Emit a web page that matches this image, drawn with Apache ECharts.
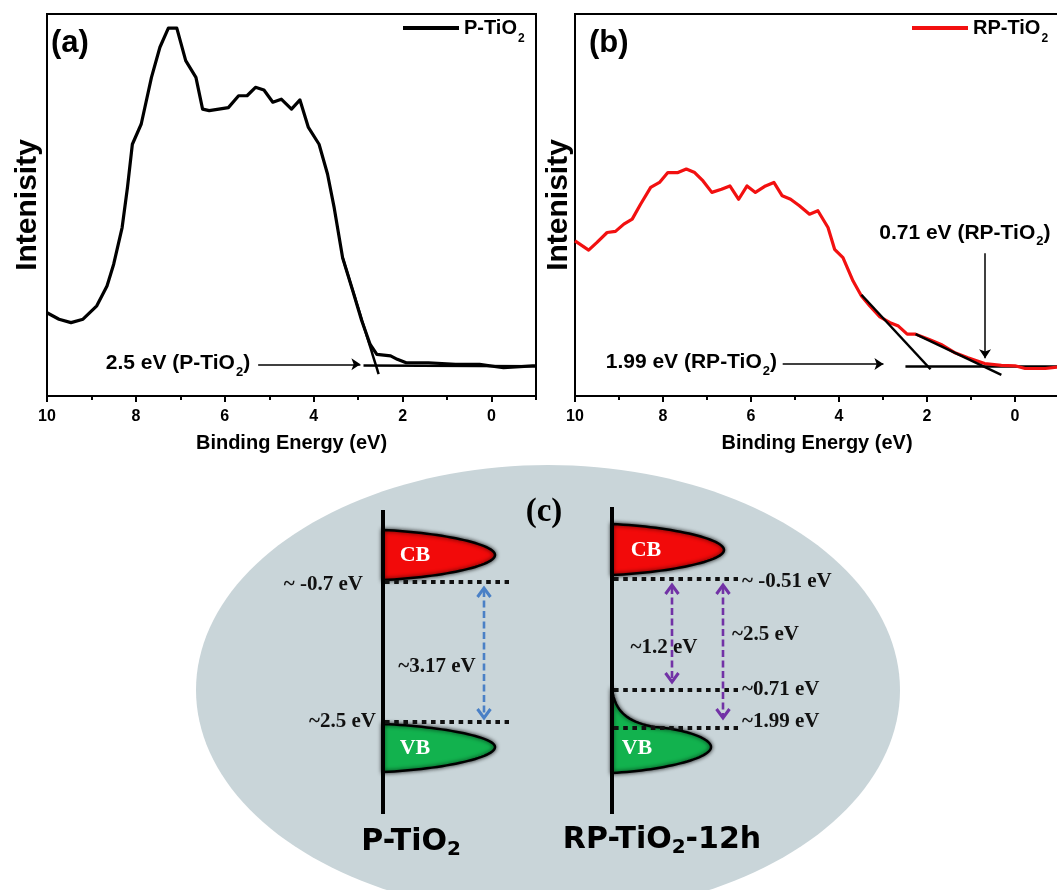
<!DOCTYPE html>
<html><head><meta charset="utf-8">
<script src="https://cdn.jsdelivr.net/npm/echarts@6/dist/echarts.min.js"></script>
<style>html,body{margin:0;padding:0;background:#fff}#c{width:1057px;height:890px}</style>
</head><body><div id="c"></div>
<script>
// ---------- values ----------
// panel (a): P-TiO2 valence-band spectrum (binding energy eV, relative intensity)
const aEnergy = [10, 9.73, 9.46, 9.19, 8.88, 8.65, 8.5, 8.31, 8.19, 8.08, 7.88, 7.65, 7.46, 7.27, 7.08, 6.88, 6.65, 6.5, 6.35, 5.92, 5.69, 5.5, 5.31, 5.12, 4.92, 4.73, 4.5, 4.31, 4.12, 3.88, 3.69, 3.54, 3.35, 3.12, 2.92, 2.73, 2.58, 2.27, 2.12, 1.92, 1.42, 0.81, 0.27, -0.27, -0.92, -1];
const aIntensity = [21.8, 20.1, 19.2, 20.1, 23.6, 28.8, 34.5, 44.1, 54.6, 65.9, 71.2, 83.4, 91.3, 96.3, 96.3, 87.8, 83.4, 75.1, 74.7, 75.5, 78.6, 78.6, 80.8, 80.1, 76.9, 77.7, 75.1, 77.5, 70.3, 65.9, 58.1, 49.3, 36.2, 27.5, 19.7, 13.5, 10.9, 10.5, 9.6, 8.7, 8.7, 8.3, 8.3, 7.4, 7.9, 7.9];
// panel (b): RP-TiO2
const bEnergy = [10, 9.69, 9.5, 9.27, 9.08, 8.89, 8.7, 8.51, 8.28, 8.08, 7.89, 7.66, 7.47, 7.28, 7.09, 6.89, 6.67, 6.48, 6.28, 6.09, 5.9, 5.67, 5.48, 5.29, 5.1, 4.9, 4.67, 4.48, 4.25, 4.1, 3.91, 3.68, 3.49, 3.3, 3.07, 2.84, 2.65, 2.45, 2.26, 1.95, 1.68, 1.38, 1.07, 0.69, 0.31, 0, -0.23, -0.69, -1];
const bIntensity = [40.6, 38.2, 40.2, 42.8, 43.1, 45.0, 46.3, 50.2, 54.6, 55.9, 58.5, 58.5, 59.4, 58.5, 56.3, 53.3, 54.1, 55.0, 51.5, 55.0, 53.3, 55.0, 55.9, 52.4, 51.5, 49.8, 47.6, 48.5, 44.1, 38.4, 36.2, 30.1, 26.2, 23.6, 20.7, 19.2, 18.3, 16.2, 16.2, 14.8, 13.5, 11.4, 10.0, 8.5, 8.0, 7.9, 7.2, 7.2, 7.6];
// extrapolation lines (energy, intensity)
const aTangent = [[3.35, 36.2], [2.54, 5.7]];
const aBaseline = [[2.88, 8.0], [-1, 7.8]];
const bTangent1 = [[3.49, 26.5], [1.92, 7.0]];
const bTangent2 = [[2.26, 16.2], [0.31, 5.5]];
const bBaseline = [[2.49, 7.7], [-1, 7.7]];
// annotations
const aNotes = ['2.5 eV (P-TiO{sub|2})'];
const aNoteAt = [[5.43, 8.6]];
const aArrow = [[5.25, 8.3], [2.95, 8.3]];
const bNotes = ['1.99 eV (RP-TiO{sub|2})', '0.71 eV (RP-TiO{sub|2})'];
const bNoteAt = [[5.41, 8.8], [1.14, 42.7]];
const bArrowH = [[5.28, 8.4], [2.99, 8.4]];
const bArrowV = [[0.68, 37.4], [0.68, 9.9]];
// axis ticks
const xMajorTicks = [10, 8, 6, 4, 2, 0];
const xMinorTicks = [9, 7, 5, 3, 1, -1];
const seriesNames = ['P-TiO2', 'RP-TiO2'];

// panel (c): band diagram (schematic layout units)
const materialNames = ['P-TiO{sub|2}', 'RP-TiO{sub|2}-12h'];
const materialAxisX = [383, 612];
const materialAxisTop = [510, 507];
const materialAxisBottom = [814, 814];
const materialLabelAt = [[411, 842], [662, 840]];
const bandMaterial = [0, 1, 0, 1];
const bandName = ['CB', 'CB', 'VB', 'VB'];
const bandTop = [530, 524, 724, 727];
const bandBottom = [580, 575, 772, 773];
const bandTipX = [495, 724, 495, 711];
const bandTipY = [555, 550, 747, 747];
const bandTailTop = [null, null, null, 688];
const bandLabelAt = [[415, 555], [646, 550], [415, 748], [637, 748]];
const levelLines = [[385, 509, 582], [385, 509, 722], [614, 738, 579], [614, 738, 690], [614, 738, 728]];
const gapArrows = [[484, 588, 718], [672, 585, 682], [723, 585, 718]];
const levelTexts = ['~ -0.7 eV', '~2.5 eV', '~3.17 eV', '~ -0.51 eV', '~1.2 eV', '~2.5 eV', '~0.71 eV', '~1.99 eV'];
const levelTextAt = [[363, 585], [376, 722], [437, 667], [742, 582], [664, 648], [732, 635], [742, 690], [742, 722]];
const levelTextAlign = ['right', 'right', 'center', 'left', 'center', 'left', 'left', 'left'];
const backdrop = [[548, 690, 352, 225]];

// ---------- styles ----------
const SANS = 'Liberation Sans';
const SERIF = 'Liberation Serif';
const bandColors = {CB: '#f20a0a', VB: '#12b24e'};
const arrowColors = ['#4a80c6', '#7232a6', '#7232a6'];
const subRich = (size, pad, fam) => ({sub: {fontSize: size, fontFamily: fam || SANS, fontWeight: 'bold', color: '#000', padding: [pad, 0, 0, 1], verticalAlign: 'middle'}});

const chart = echarts.init(document.getElementById('c'), null, {renderer: 'canvas'});

function xAxisMain(grid) {
  return {gridIndex: grid, type: 'value', inverse: true, min: -1, max: 10, interval: 1, position: 'bottom',
    axisLine: {show: true, onZero: false, lineStyle: {color: '#000', width: 2}},
    axisTick: {show: true, inside: false, length: 6, customValues: xMajorTicks, lineStyle: {color: '#000', width: 2}},
    axisLabel: {show: true, customValues: xMajorTicks, margin: 13, fontFamily: SANS, fontWeight: 'bold', fontSize: 16, color: '#000'},
    splitLine: {show: false},
    name: 'Binding Energy (eV)', nameLocation: 'middle', nameGap: 37,
    nameTextStyle: {fontFamily: SANS, fontWeight: 'bold', fontSize: 20, color: '#000'}};
}
function xAxisMinor(grid) {
  return {gridIndex: grid, type: 'value', inverse: true, min: -1, max: 10, interval: 1, position: 'bottom', offset: 0,
    axisLine: {show: false}, axisLabel: {show: false}, splitLine: {show: false},
    axisTick: {show: true, inside: false, length: 4, customValues: xMinorTicks, lineStyle: {color: '#000', width: 2}}};
}
function yAxisPanel(grid, gap) {
  return {gridIndex: grid, type: 'value', min: 0, max: 100,
    axisLine: {show: true, onZero: false, lineStyle: {color: '#000', width: 2}},
    axisTick: {show: false}, axisLabel: {show: false}, splitLine: {show: false},
    name: 'Intenisity', nameLocation: 'middle', nameGap: gap, nameRotate: 90,
    nameTextStyle: {fontFamily: SANS, fontWeight: 'bold', fontSize: 30, color: '#000'}};
}
function blackLine(name, pts, xi, yi, extra) {
  return Object.assign({type: 'line', name: name, xAxisIndex: xi, yAxisIndex: yi, data: pts, symbol: 'none',
    lineStyle: {color: '#000', width: 2.5}, itemStyle: {color: '#000'}, z: 4, silent: true}, extra || {});
}
function arrowMark(segs) {
  return {silent: true, symbol: ['none', 'arrow'], symbolSize: 9, label: {show: false},
    lineStyle: {color: '#000', width: 1.5, type: 'solid'}, itemStyle: {color: '#000'},
    data: segs.map(s => [{coord: s[0]}, {coord: s[1]}])};
}
function noteSeries(notes, at, aligns, xi, yi) {
  return {type: 'custom', xAxisIndex: xi, yAxisIndex: yi, data: at, z: 6, silent: true,
    renderItem: (params, api) => {
      const p = api.coord([api.value(0), api.value(1)]);
      return {type: 'text', x: p[0], y: p[1], style: {text: notes[params.dataIndex], fill: '#000',
        fontFamily: SANS, fontWeight: 'bold', fontSize: 21, align: aligns[params.dataIndex], verticalAlign: 'middle',
        rich: subRich(13, 18)}};
    }};
}
function cubic(p0, p1, p2, p3, n, out) {
  for (let i = 1; i <= n; i++) {
    const t = i / n, u = 1 - t;
    out.push([u*u*u*p0[0] + 3*u*u*t*p1[0] + 3*u*t*t*p2[0] + t*t*t*p3[0],
              u*u*u*p0[1] + 3*u*u*t*p1[1] + 3*u*t*t*p2[1] + t*t*t*p3[1]]);
  }
}

const option = {
  backgroundColor: '#fff',
  animation: false,
  title: [
    {text: '(a)', left: 51, top: 28, padding: 0, textStyle: {fontFamily: SANS, fontWeight: 'bold', fontSize: 31, color: '#000'}},
    {text: '(b)', left: 589, top: 28, padding: 0, textStyle: {fontFamily: SANS, fontWeight: 'bold', fontSize: 31, color: '#000'}},
    {text: '(c)', left: 544, textAlign: 'center', top: 496, padding: 0, textStyle: {fontFamily: SERIF, fontWeight: 'bold', fontSize: 33, color: '#000'}}
  ],
  legend: [
    {data: [seriesNames[0]], left: 403, top: 18, padding: 0, icon: 'rect', itemWidth: 56, itemHeight: 4,
      formatter: n => n.replace(/2$/, '{sub|2}'),
      textStyle: {fontFamily: SANS, fontWeight: 'bold', fontSize: 20, color: '#000', rich: subRich(12, 22)}},
    {data: [seriesNames[1]], left: 912, top: 18, padding: 0, icon: 'rect', itemWidth: 56, itemHeight: 4,
      formatter: n => n.replace(/2$/, '{sub|2}'),
      textStyle: {fontFamily: SANS, fontWeight: 'bold', fontSize: 20, color: '#000', rich: subRich(12, 22)}}
  ],
  grid: [
    {left: 47, top: 14, width: 489, height: 382, show: true, borderColor: '#000', borderWidth: 2, outerBoundsMode: 'none', containLabel: false},
    {left: 575, top: 14, width: 484, height: 382, show: true, borderColor: '#000', borderWidth: 2, outerBoundsMode: 'none', containLabel: false},
    {left: 0, top: 460, width: 1057, height: 430, show: false, outerBoundsMode: 'none', containLabel: false}
  ],
  xAxis: [xAxisMain(0), xAxisMinor(0), xAxisMain(1), xAxisMinor(1),
    {gridIndex: 2, type: 'value', min: 0, max: 1057, show: false}],
  yAxis: [yAxisPanel(0, 4), yAxisPanel(1, 1),
    {gridIndex: 2, type: 'value', min: 460, max: 890, inverse: true, show: false}],
  series: [
    // ---- panel (a)
    {type: 'line', name: seriesNames[0], xAxisIndex: 0, yAxisIndex: 0, symbol: 'none', z: 3,
      data: aEnergy.map((x, i) => [x, aIntensity[i]]),
      lineStyle: {color: '#000', width: 3.2, join: 'round'}, itemStyle: {color: '#000'}},
    blackLine('tanA', aTangent, 0, 0),
    blackLine('baseA', aBaseline, 0, 0, {markLine: arrowMark([aArrow])}),
    noteSeries(aNotes, aNoteAt, ['right'], 0, 0),
    // ---- panel (b)
    {type: 'line', name: seriesNames[1], xAxisIndex: 2, yAxisIndex: 1, symbol: 'none', z: 3,
      data: bEnergy.map((x, i) => [x, bIntensity[i]]),
      lineStyle: {color: '#f21010', width: 3.2, join: 'round'}, itemStyle: {color: '#f21010'}},
    blackLine('tanB1', bTangent1, 2, 1),
    blackLine('tanB2', bTangent2, 2, 1),
    blackLine('baseB', bBaseline, 2, 1, {z: 2, markLine: arrowMark([bArrowH, bArrowV])}),
    noteSeries(bNotes, bNoteAt, ['right', 'center'], 2, 1),
    // ---- panel (c): backdrop ellipse
    {type: 'custom', xAxisIndex: 4, yAxisIndex: 2, data: backdrop, z: 1, silent: true, clip: false,
      renderItem: (params, api) => {
        const cx = api.value(0), cy = api.value(1), rx = api.value(2), ry = api.value(3);
        const pts = [];
        for (let k = 0; k < 180; k++) {
          const t = k / 180 * Math.PI * 2;
          pts.push(api.coord([cx + rx * Math.cos(t), cy + ry * Math.sin(t)]));
        }
        return {type: 'polygon', shape: {points: pts}, style: {fill: '#c9d5d9', stroke: 'none'}};
      }},
    // bands
    {type: 'custom', xAxisIndex: 4, yAxisIndex: 2, z: 3, silent: true, clip: false,
      data: bandMaterial.map((m, i) => [materialAxisX[m], bandTop[i], bandBottom[i], bandTipX[i], bandTipY[i]]),
      renderItem: (params, api) => {
        const i = params.dataIndex;
        const xL = api.value(0), yT = api.value(1), yB = api.value(2), tip = [api.value(3), api.value(4)];
        const pts = [];
        const tail = bandTailTop[i];
        if (tail != null) {
          pts.push([xL, tail]);
          cubic([xL, tail], [xL + 2, tail + 20], [xL + 12, yT - 5], [xL + 43, yT], 20, pts);
        } else pts.push([xL, yT]);
        const s = pts[pts.length - 1];
        cubic(s, [s[0] + 0.5 * (tip[0] - s[0]), yT + 0.1 * (tip[1] - yT)], [tip[0], tip[1] - 0.45 * (tip[1] - yT)], tip, 30, pts);
        cubic(tip, [tip[0], tip[1] + 0.45 * (yB - tip[1])], [xL + 0.5 * (tip[0] - xL), yB - 0.1 * (yB - tip[1])], [xL, yB], 30, pts);
        const lp = api.coord(bandLabelAt[i]);
        return {type: 'group', children: [
          {type: 'polygon', shape: {points: pts.map(p => api.coord(p))},
            style: {fill: bandColors[bandName[i]], stroke: '#000', lineWidth: 2.5, shadowBlur: 4, shadowColor: 'rgba(0,0,0,0.75)'}},
          {type: 'text', x: lp[0], y: lp[1], style: {text: bandName[i], fill: '#fff', fontFamily: SERIF, fontWeight: 'bold', fontSize: 22, align: 'center', verticalAlign: 'middle'}}
        ]};
      }},
    // material axes
    {type: 'custom', xAxisIndex: 4, yAxisIndex: 2, z: 4, silent: true, clip: false,
      data: materialAxisX.map((x, i) => [x, materialAxisTop[i], materialAxisBottom[i]]),
      renderItem: (params, api) => {
        const a = api.coord([api.value(0), api.value(1)]), b = api.coord([api.value(0), api.value(2)]);
        return {type: 'line', shape: {x1: a[0], y1: a[1], x2: b[0], y2: b[1]}, style: {stroke: '#000', lineWidth: 4}};
      }},
    // dotted band edges
    {type: 'custom', xAxisIndex: 4, yAxisIndex: 2, z: 5, silent: true, clip: false, data: levelLines,
      renderItem: (params, api) => {
        const a = api.coord([api.value(0), api.value(2)]), b = api.coord([api.value(1), api.value(2)]);
        return {type: 'line', shape: {x1: a[0], y1: a[1], x2: b[0], y2: b[1]}, style: {stroke: '#111', lineWidth: 4, lineDash: [4.6, 4.6]}};
      }},
    // level texts
    {type: 'custom', xAxisIndex: 4, yAxisIndex: 2, z: 5, silent: true, clip: false, data: levelTextAt,
      renderItem: (params, api) => {
        const p = api.coord([api.value(0), api.value(1)]);
        return {type: 'text', x: p[0], y: p[1], style: {text: levelTexts[params.dataIndex], fill: '#111',
          fontFamily: SERIF, fontWeight: 'bold', fontSize: 21, align: levelTextAlign[params.dataIndex], verticalAlign: 'middle'}};
      }},
    // gap arrows
    {type: 'custom', xAxisIndex: 4, yAxisIndex: 2, z: 6, silent: true, clip: false, data: gapArrows,
      renderItem: (params, api) => {
        const c = arrowColors[params.dataIndex];
        const t = api.coord([api.value(0), api.value(1)]), b = api.coord([api.value(0), api.value(2)]);
        const hw = 6.5, hh = 9;
        return {type: 'group', children: [
          {type: 'line', shape: {x1: t[0], y1: t[1] + 2, x2: b[0], y2: b[1] - 2}, style: {stroke: c, lineWidth: 2.6, lineDash: [7, 3.5]}},
          {type: 'polyline', shape: {points: [[t[0] - hw, t[1] + hh], [t[0], t[1]], [t[0] + hw, t[1] + hh]]}, style: {stroke: c, lineWidth: 3, fill: 'none'}},
          {type: 'polyline', shape: {points: [[b[0] - hw, b[1] - hh], [b[0], b[1]], [b[0] + hw, b[1] - hh]]}, style: {stroke: c, lineWidth: 3, fill: 'none'}}
        ]};
      }},
    // material names
    {type: 'custom', xAxisIndex: 4, yAxisIndex: 2, z: 6, silent: true, clip: false, data: materialLabelAt,
      renderItem: (params, api) => {
        const p = api.coord([api.value(0), api.value(1)]);
        return {type: 'text', x: p[0], y: p[1], style: {text: materialNames[params.dataIndex], fill: '#000',
          fontFamily: 'DejaVu Sans', fontWeight: 'bold', fontSize: 30, align: 'center', verticalAlign: 'middle',
          rich: {sub: {fontFamily: 'DejaVu Sans', fontWeight: 'bold', fontSize: 20, fill: '#000', color: '#000', padding: [16, 0, 0, 0], verticalAlign: 'middle'}}}};
      }}
  ]
};
chart.setOption(option);
</script></body></html>
